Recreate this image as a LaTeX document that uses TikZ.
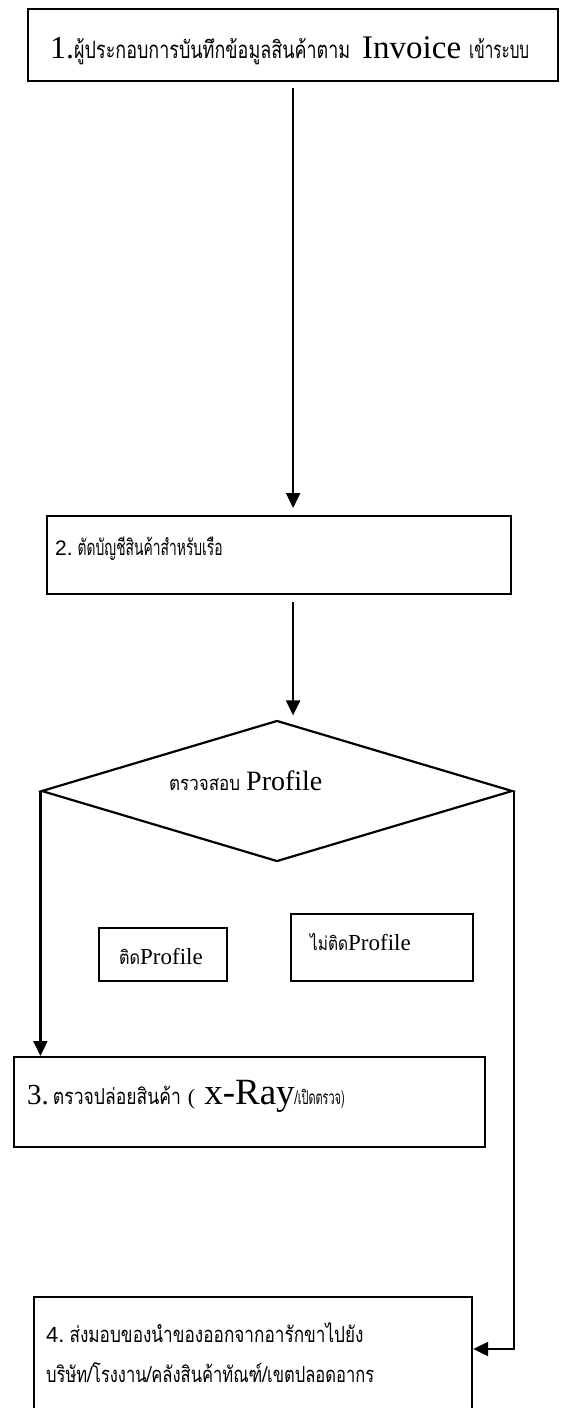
\documentclass[tikz,border=0pt]{standalone}
\usepackage{fontspec}
\usepackage{graphicx}
\setmainfont{Liberation Serif}
\newfontfamily\thaifont[Script=Thai]{Loma}
\newfontfamily\arialfont{Liberation Sans}
\usetikzlibrary{shapes.geometric,arrows.meta}
\newcommand{\thx}[3]{\resizebox{#2}{\height}{\thaifont\fontsize{#1}{#1}\selectfont #3}}
\newcommand{\rmx}[2]{{\fontsize{#1}{#1}\selectfont #2}}
\newcommand{\sfx}[2]{{\arialfont\fontsize{#1}{#1}\selectfont #2}}
\tikzset{
  stepbox/.style={draw, line width=2.2pt, inner sep=0pt, anchor=north west},
  decision/.style={draw, diamond, line width=2.2pt, inner sep=0pt},
  txt/.style={inner sep=0pt, anchor=base west},
  arr/.style={line width=2.2pt, -{Triangle[length=15pt,width=14pt]}}
}
\begin{document}
\begin{tikzpicture}[x=1pt,y=-1pt]
\useasboundingbox (0,0) rectangle (566,1408);
% boxes
\node[stepbox, minimum width=530pt, minimum height=72pt] (b1) at (27,8) {};
\node[stepbox, minimum width=464pt, minimum height=78pt] (b2) at (46,515) {};
\node[decision, minimum width=471pt, minimum height=141pt] (d) at (277,791) {};
\node[stepbox, minimum width=128pt, minimum height=53pt] (s1) at (98,927) {};
\node[stepbox, minimum width=182pt, minimum height=67pt] (s2) at (290,913) {};
\node[stepbox, minimum width=471pt, minimum height=90pt] (b3) at (13,1056) {};
\node[stepbox, minimum width=438pt, minimum height=130pt] (b4) at (33,1296) {};
% texts
\node[txt] (t1) at (50,58) {\rmx{32}{1.}\thx{24}{276pt}{ผู้ประกอบการบันทึกข้อมูลสินค้าตาม}\hspace{12pt}\rmx{33}{Invoice}\hspace{8pt}\thx{24}{60pt}{เข้าระบบ}};
\node[txt] (t2) at (55,555) {\sfx{21}{2.}\hspace{5pt}\thx{22}{145pt}{ตัดบัญชีสินค้าสำหรับเรือ}};
\node[txt] (td) at (169,790) {\thx{20}{71pt}{ตรวจสอบ}\hspace{6pt}\rmx{28}{Profile}};
\node[txt] (ts1) at (119,964) {\thx{19}{21pt}{ติด}\rmx{23}{Profile}};
\node[txt] (ts2) at (310,950) {\thx{19}{38pt}{ไม่ติด}\rmx{23}{Profile}};
\node[txt] (t3) at (27,1104) {\rmx{29}{3.}\hspace{4pt}\thx{22}{128pt}{ตรวจปล่อยสินค้า}\hspace{7pt}\rmx{22}{(}\hspace{9pt}\rmx{37}{x-Ray}\thx{19}{50pt}{/เปิดตรวจ)}};
\node[txt] (t4a) at (46,1342) {\sfx{22}{4.}\hspace{5pt}\thx{22}{294pt}{ส่งมอบของนำของออกจากอารักขาไปยัง}};
\node[txt] (t4b) at (46,1382) {\thx{22}{328pt}{บริษัท/โรงงาน/คลังสินค้าทัณฑ์/เขตปลอดอากร}};
% connectors
\draw[arr, shorten <=6pt, shorten >=7pt] (b1.south) -- (b1.south |- b2.north);
\draw[arr, shorten <=7pt, shorten >=4pt] ([xshift=14pt]b2.south) -- ([xshift=14pt]b2.south |- d.north);
\draw[arr] (d.west) -- (d.west |- b3.north);
\draw[arr] (d.east) |- ([yshift=-53pt]b4.north east);
\end{tikzpicture}
\end{document}
